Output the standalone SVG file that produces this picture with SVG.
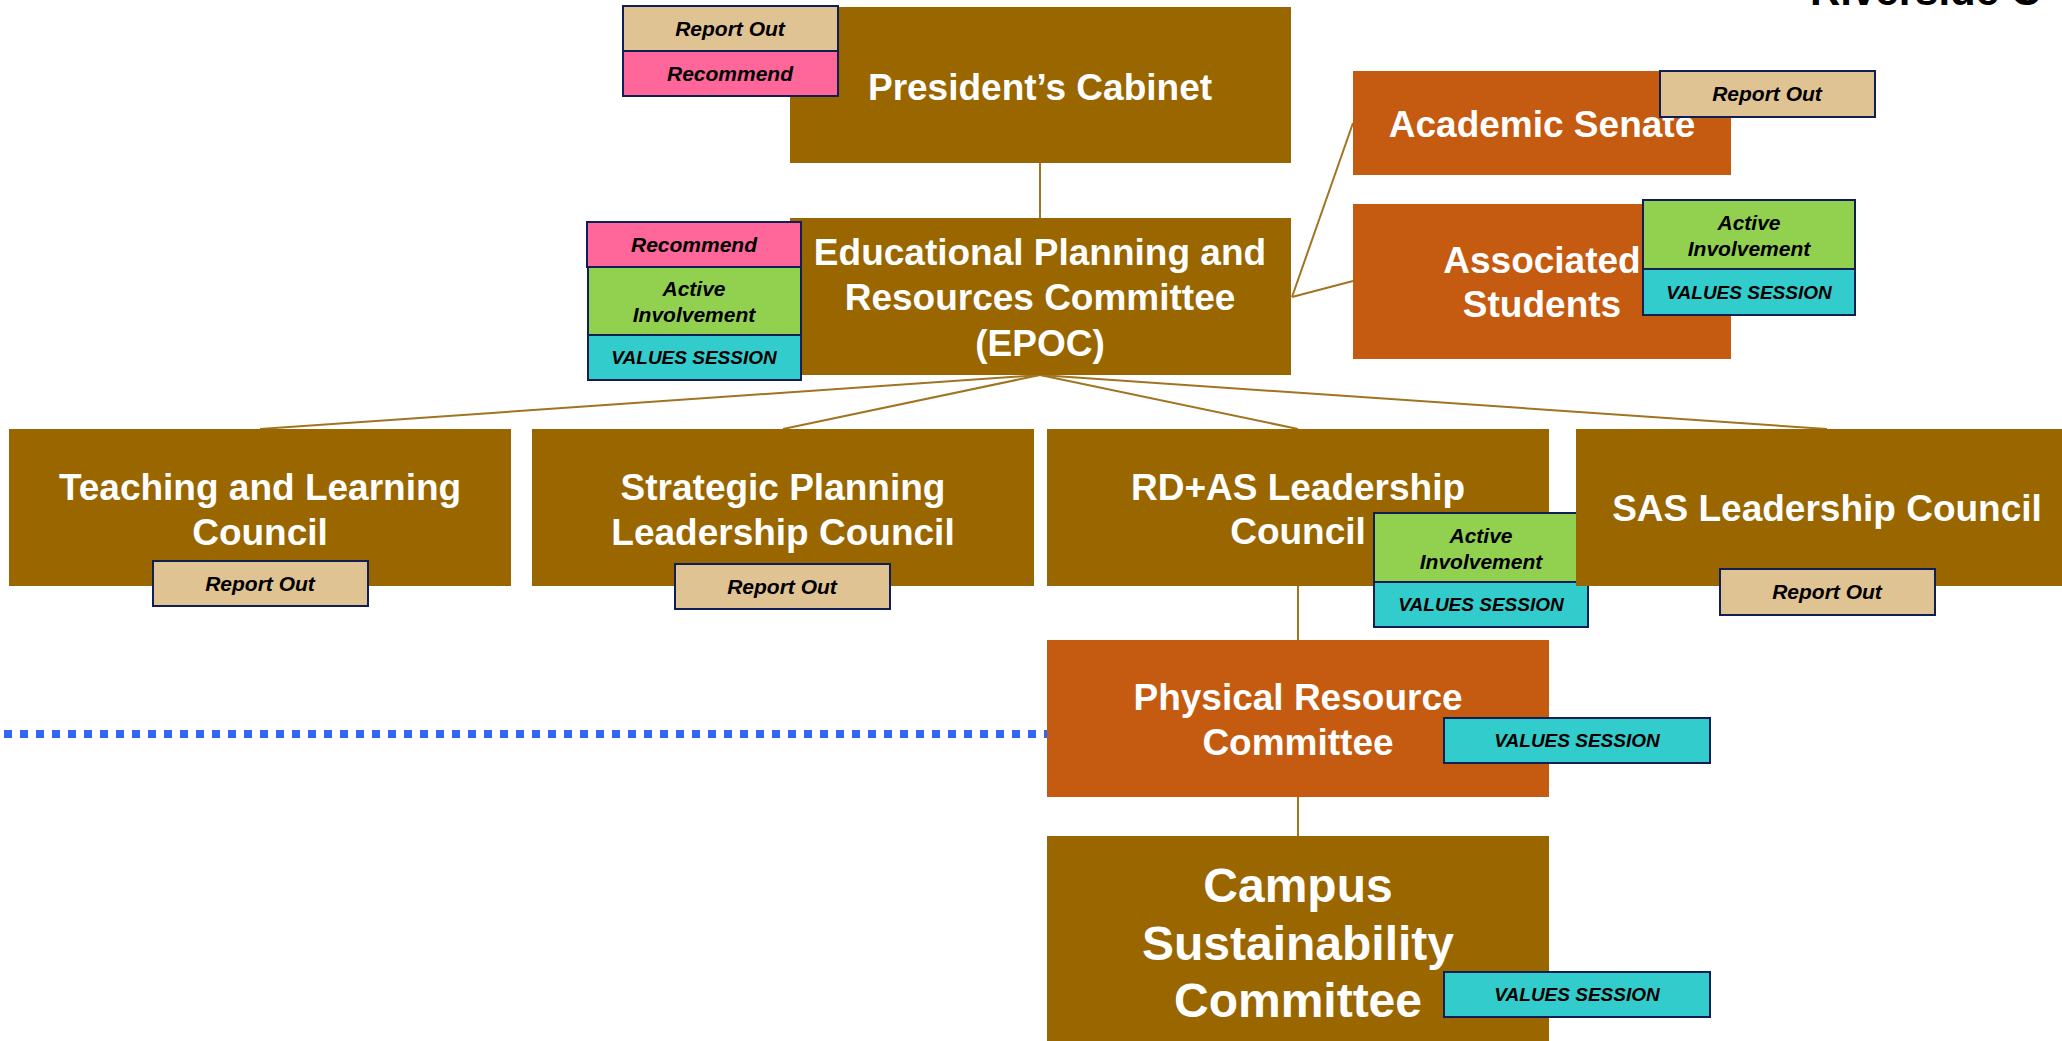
<svg xmlns="http://www.w3.org/2000/svg" width="2062" height="1041" viewBox="0 0 2062 1041">
<style>
.brown{fill:#996600}
.orange{fill:#C55A11}
.lbl{font-family:"Liberation Sans",Arial,sans-serif;font-weight:bold;fill:#FFFFFF;text-anchor:middle;font-size:37px}
.big{font-size:48px}
.tag{stroke:#0F1F55;stroke-width:2}
.ro{fill:#E0C393}
.rec{fill:#FF6699}
.act{fill:#92D050}
.val{fill:#33CCCC}
.tt{font-family:"Liberation Sans",Arial,sans-serif;font-weight:bold;font-style:italic;fill:#000000;text-anchor:middle;font-size:21px}
.tv{font-size:19px}
.conn{stroke:#A07420;stroke-width:2;fill:none}
.dot{stroke:#2F66F5;stroke-width:8;stroke-dasharray:8 8;fill:none}
</style>
<text x="1810" y="5" font-family="Liberation Sans, Arial, sans-serif" font-weight="bold" font-size="42" fill="#000000">Riverside C</text>
<g id="connectors">
<line class="conn" x1="1040" y1="163" x2="1040" y2="218"/>
<line class="conn" x1="1292" y1="297" x2="1353" y2="123"/>
<line class="conn" x1="1292" y1="297" x2="1353" y2="281"/>
<line class="conn" x1="1040" y1="375" x2="260" y2="429"/>
<line class="conn" x1="1040" y1="375" x2="783" y2="429"/>
<line class="conn" x1="1040" y1="375" x2="1298" y2="429"/>
<line class="conn" x1="1040" y1="375" x2="1827" y2="429"/>
<line class="conn" x1="1298" y1="586" x2="1298" y2="640"/>
<line class="conn" x1="1298" y1="797" x2="1298" y2="836"/>
<line class="dot" x1="4" y1="734" x2="1047" y2="734"/>
</g>
<g id="presidents-cabinet">
<rect class="brown" x="790" y="7" width="501" height="156"/>
<text class="lbl" x="1040" y="100">President’s Cabinet</text>
<rect class="tag ro" x="623" y="6" width="215" height="45"/>
<text class="tt" x="730" y="36">Report Out</text>
<rect class="tag rec" x="623" y="51" width="215" height="45"/>
<text class="tt" x="730" y="81">Recommend</text>
</g>
<g id="epoc">
<rect class="brown" x="790" y="218" width="501" height="157"/>
<text class="lbl" x="1040" y="265">Educational Planning and</text>
<text class="lbl" x="1040" y="310">Resources Committee</text>
<text class="lbl" x="1040" y="356">(EPOC)</text>
<rect class="tag rec" x="587" y="222" width="214" height="45"/>
<text class="tt" x="694" y="252">Recommend</text>
<rect class="tag act" x="588" y="267" width="213" height="68"/>
<text class="tt" x="694" y="296">Active</text>
<text class="tt" x="694" y="322">Involvement</text>
<rect class="tag val" x="588" y="335" width="213" height="45"/>
<text class="tt tv" x="694" y="364">VALUES SESSION</text>
</g>
<g id="academic-senate">
<rect class="orange" x="1353" y="71" width="378" height="104"/>
<text class="lbl" x="1542" y="137" font-size="39">Academic Senate</text>
<rect class="tag ro" x="1660" y="71" width="215" height="46"/>
<text class="tt" x="1767" y="101">Report Out</text>
</g>
<g id="associated-students">
<rect class="orange" x="1353" y="204" width="378" height="155"/>
<text class="lbl" x="1542" y="273">Associated</text>
<text class="lbl" x="1542" y="317">Students</text>
<rect class="tag act" x="1643" y="200" width="212" height="69"/>
<text class="tt" x="1749" y="230">Active</text>
<text class="tt" x="1749" y="256">Involvement</text>
<rect class="tag val" x="1643" y="269" width="212" height="46"/>
<text class="tt tv" x="1749" y="299">VALUES SESSION</text>
</g>
<g id="teaching-learning">
<rect class="brown" x="9" y="429" width="502" height="157"/>
<text class="lbl" x="260" y="500">Teaching and Learning</text>
<text class="lbl" x="260" y="545">Council</text>
<rect class="tag ro" x="153" y="561" width="215" height="45"/>
<text class="tt" x="260" y="591">Report Out</text>
</g>
<g id="strategic-planning">
<rect class="brown" x="532" y="429" width="502" height="157"/>
<text class="lbl" x="783" y="500">Strategic Planning</text>
<text class="lbl" x="783" y="545">Leadership Council</text>
<rect class="tag ro" x="675" y="564" width="215" height="45"/>
<text class="tt" x="782" y="594">Report Out</text>
</g>
<g id="rdas-leadership">
<rect class="brown" x="1047" y="429" width="502" height="157"/>
<text class="lbl" x="1298" y="500">RD+AS Leadership</text>
<text class="lbl" x="1298" y="544">Council</text>
<rect class="tag act" x="1374" y="513" width="214" height="69"/>
<text class="tt" x="1481" y="543">Active</text>
<text class="tt" x="1481" y="569">Involvement</text>
<rect class="tag val" x="1374" y="582" width="214" height="45"/>
<text class="tt tv" x="1481" y="611">VALUES SESSION</text>
</g>
<g id="sas-leadership">
<rect class="brown" x="1576" y="429" width="502" height="157"/>
<text class="lbl" x="1827" y="521">SAS Leadership Council</text>
<rect class="tag ro" x="1720" y="569" width="215" height="46"/>
<text class="tt" x="1827" y="599">Report Out</text>
</g>
<g id="physical-resource">
<rect class="orange" x="1047" y="640" width="502" height="157"/>
<text class="lbl" x="1298" y="710">Physical Resource</text>
<text class="lbl" x="1298" y="755">Committee</text>
<rect class="tag val" x="1444" y="718" width="266" height="45"/>
<text class="tt tv" x="1577" y="747">VALUES SESSION</text>
</g>
<g id="campus-sustainability">
<rect class="brown" x="1047" y="836" width="502" height="210"/>
<text class="lbl big" x="1298" y="902">Campus</text>
<text class="lbl big" x="1298" y="960">Sustainability</text>
<text class="lbl big" x="1298" y="1017">Committee</text>
<rect class="tag val" x="1444" y="972" width="266" height="45"/>
<text class="tt tv" x="1577" y="1001">VALUES SESSION</text>
</g>
</svg>
